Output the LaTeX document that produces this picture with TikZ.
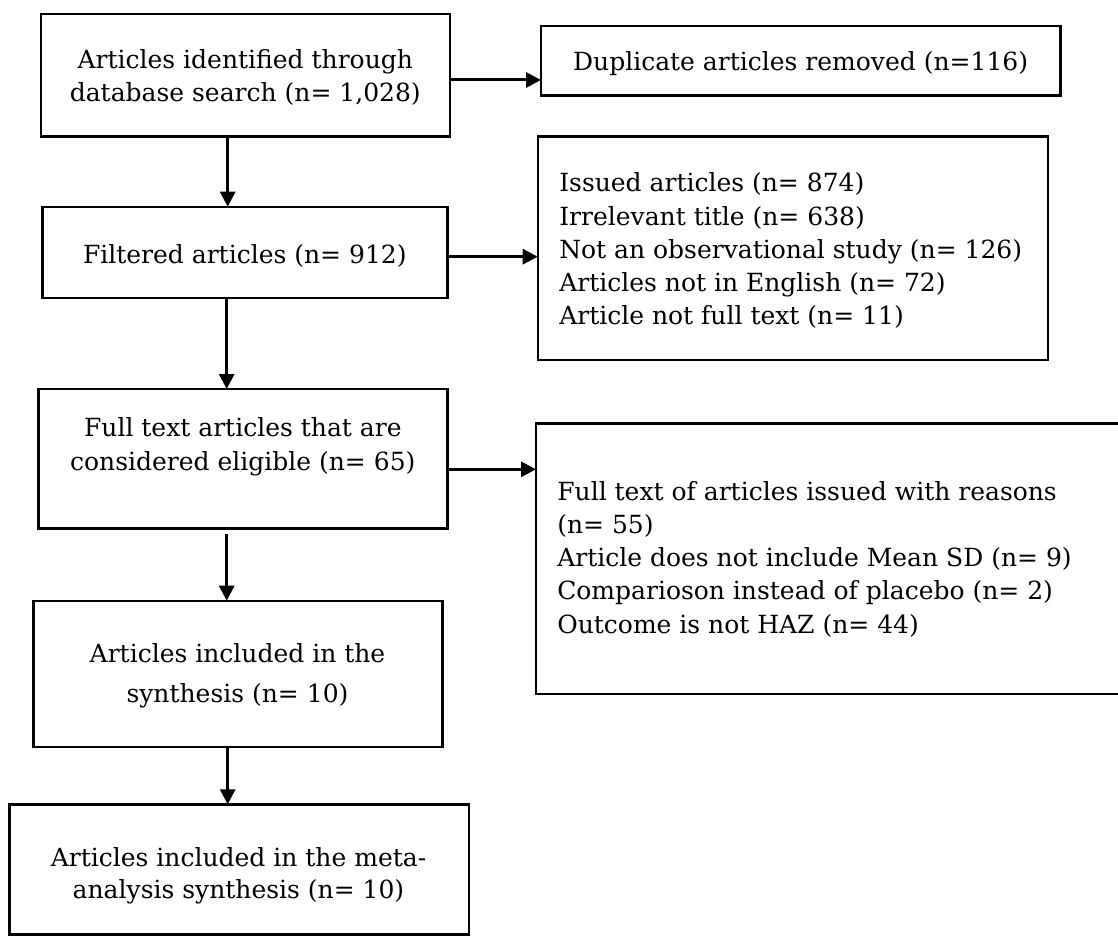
\documentclass[tikz,border=0pt]{standalone}
\usepackage{fontspec}
\setmainfont{DejaVu Serif}
\usetikzlibrary{arrows.meta}
\newcommand\myfs{\fontsize{25pt}{33.3pt}\selectfont}
\newcommand\mybox[5]{\node[box, minimum width={(#4-#2)*1pt}, minimum height={(#5-#3)*1pt}] (#1) at ({(#2+#4)/2},{(#3+#5)/2}) {};}
\tikzset{
  box/.style={draw=black, line width=2.4pt, inner sep=0pt, outer sep=0pt, fill=white},
  arr/.style={line width=3pt, -{Triangle[length=15pt,width=15pt]}},
  txt/.style={anchor=base, inner sep=0pt, outer sep=0pt, font=\myfs, text=black},
  ltxt/.style={txt, anchor=base west}
}
\begin{document}
\begin{tikzpicture}[x=1pt,y=-1pt]
\useasboundingbox[fill=white] (0,0) rectangle (1118,936);
% boxes
\mybox{b1}{40.7}{14.3}{450}{136.7}
\mybox{dup}{541}{26}{1060.3}{95.7}
\mybox{filt}{42.3}{206.7}{447.3}{297.7}
\mybox{iss}{537.7}{136.7}{1048}{360}
\mybox{full}{38.3}{389}{447.3}{528.3}
\mybox{rea}{536}{423.3}{1122}{694}
\mybox{syn}{33.3}{600.7}{442.3}{746.7}
\mybox{meta}{9.3}{804.3}{469}{934.5}
% texts
\node[txt] (t1) at (245.3,68.3) {\begin{tabular}[t]{@{}c@{}}Articles identified through\\database search (n= 1,028)\end{tabular}};
\node[txt] (tdup) at (800.6,71) {Duplicate articles removed (n=116)};
\node[txt] (tfilt) at (244.8,263.3) {Filtered articles (n= 912)};
\node[ltxt] (tiss) at (559.3,191.7) {\begin{tabular}[t]{@{}l@{}}Issued articles (n= 874)\\Irrelevant title (n= 638)\\Not an observational study (n= 126)\\Articles not in English (n= 72)\\Article not full text (n= 11)\end{tabular}};
\node[txt] (tfull) at (242.8,436.7) {\begin{tabular}[t]{@{}c@{}}Full text articles that are\\considered eligible (n= 65)\end{tabular}};
\node[ltxt] (trea) at (557.3,500) {\begin{tabular}[t]{@{}l@{}}Full text of articles issued with reasons\\(n= 55)\\Article does not include Mean SD (n= 9)\\Comparioson instead of placebo (n= 2)\\Outcome is not HAZ (n= 44)\end{tabular}};
\node[txt, font=\fontsize{25pt}{40pt}\selectfont] (tsyn) at (237.5,662) {\begin{tabular}[t]{@{}c@{}}Articles included in the\\synthesis (n= 10)\end{tabular}};
\node[txt, font=\fontsize{25pt}{32.7pt}\selectfont] (tmeta) at (238.5,866) {\begin{tabular}[t]{@{}c@{}}Articles included in the meta-\\analysis synthesis (n= 10)\end{tabular}};
% connectors
\draw[arr] (b1.east |- 0,80) -- (dup.west |- 0,80);
\draw[arr] (b1.south -| 227.7,0) -- (filt.north -| 227.7,0);
\draw[arr] (filt.east |- 0,256.7) -- (iss.west |- 0,256.7);
\draw[arr] (filt.south -| 226.7,0) -- (full.north -| 226.7,0);
\draw[arr] (full.east |- 0,469.3) -- (rea.west |- 0,469.3);
\draw[arr] ([yshift=-5.7pt]full.south -| 226.7,0) -- (syn.north -| 226.7,0);
\draw[arr] (syn.south -| 227.7,0) -- (meta.north -| 227.7,0);
\end{tikzpicture}
\end{document}
